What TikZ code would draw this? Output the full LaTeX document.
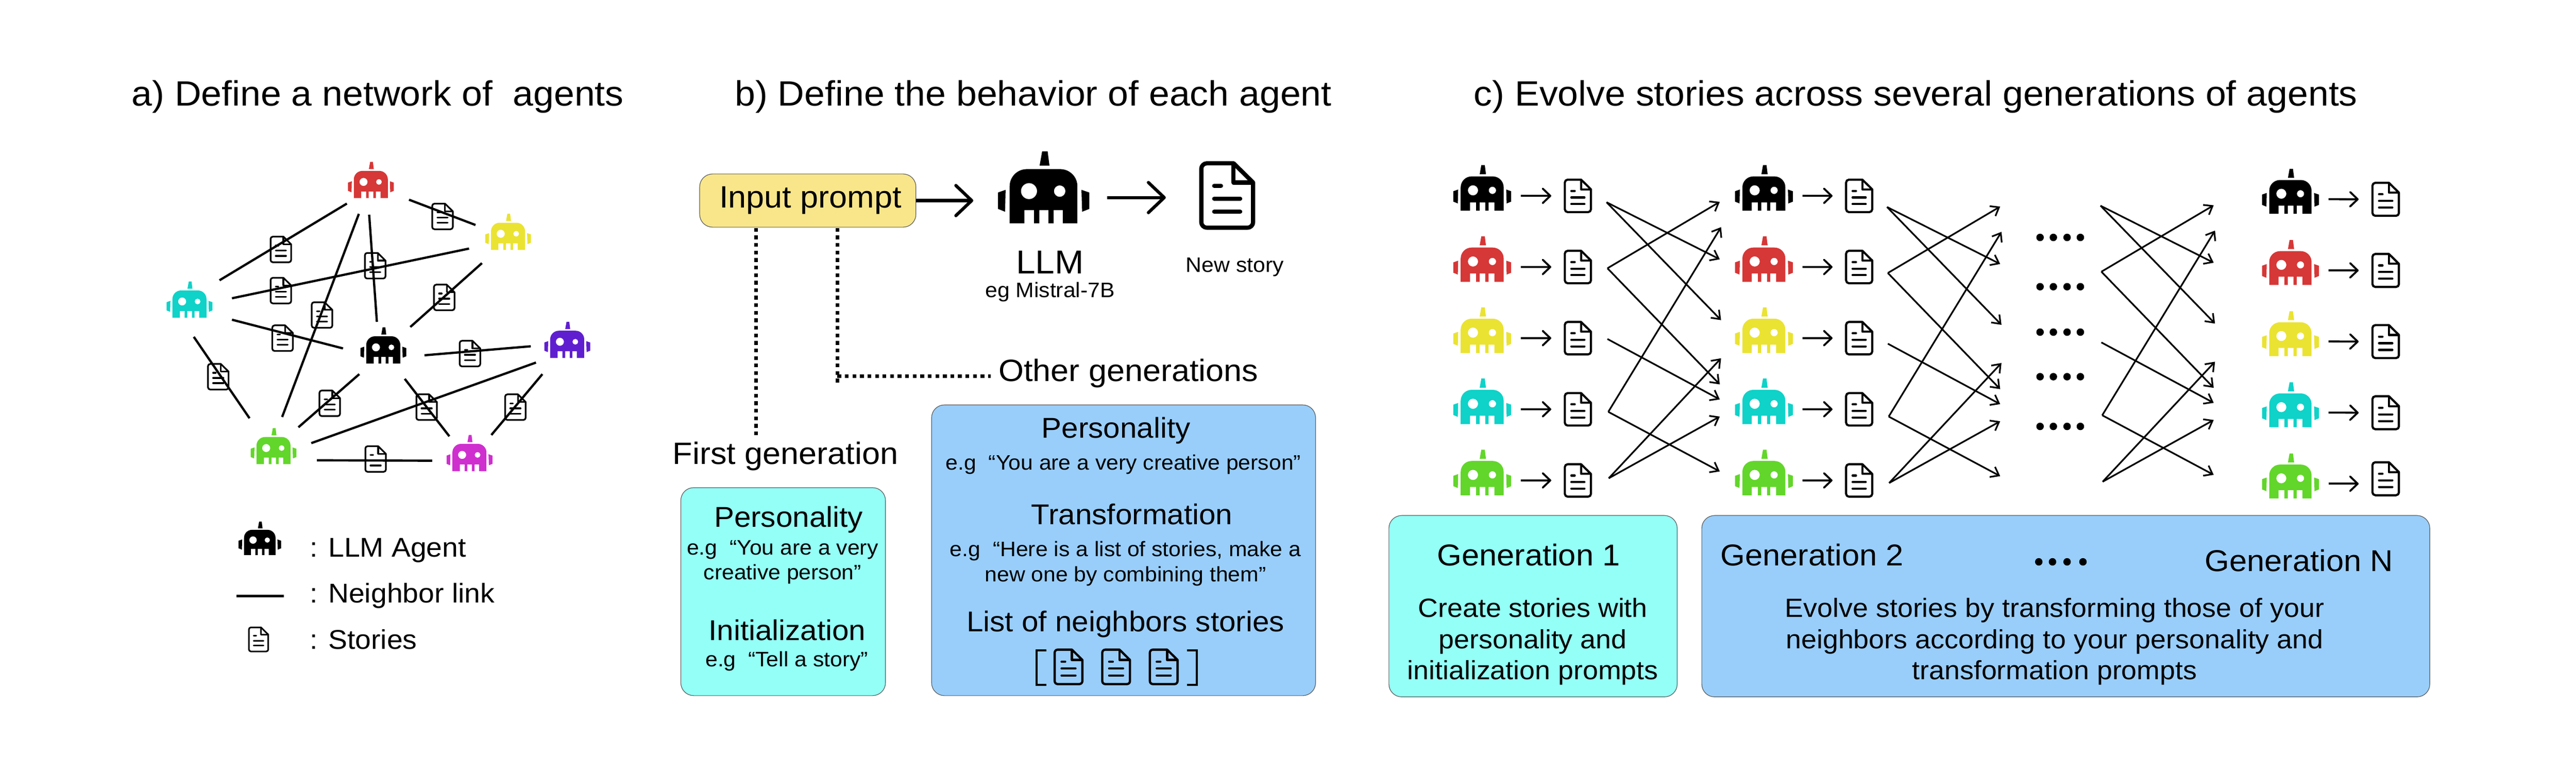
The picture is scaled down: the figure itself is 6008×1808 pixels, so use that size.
\documentclass[tikz,border=0pt]{standalone}
\usepackage{fontspec}
\setmainfont{Liberation Sans}[FakeStretch=1.05]
\usetikzlibrary{arrows.meta}
\definecolor{agentred}{HTML}{D63737}
\definecolor{agentyellow}{HTML}{EAE332}
\definecolor{agentcyan}{HTML}{0FD2C8}
\definecolor{agentpurple}{HTML}{5F1FD0}
\definecolor{agentgreen}{HTML}{62D62A}
\definecolor{agentpink}{HTML}{CF2FCF}
\definecolor{promptfill}{HTML}{F9E68B}
\definecolor{firstfill}{HTML}{94FFF6}
\definecolor{otherfill}{HTML}{99CEFB}
\tikzset{
    titletext/.style = {font=\fontsize{23.3}{27}\selectfont, inner sep=0},
    headtext/.style = {font=\fontsize{20.5}{24}\selectfont, inner sep=0},
    parttext/.style = {font=\fontsize{19}{22}\selectfont, inner sep=0},
    smalltext/.style = {font=\fontsize{13.9}{16.5}\selectfont, inner sep=0, align=center},
    keytext/.style = {font=\fontsize{18}{20}\selectfont, inner sep=0, anchor=base west},
    gentext/.style = {font=\fontsize{20}{24}\selectfont, inner sep=0},
    plantext/.style = {font=\fontsize{17.5}{20.8}\selectfont, inner sep=0, align=center},
    card/.style = {draw=black!65, line width=0.4pt, rounded corners=8.5pt, inner sep=0},
    link/.style = {line width=1.5pt},
    flow/.style = {line width=1.3pt, -{Straight Barb[round,length=5pt,width=9.6pt]}},
    bigflow/.style = {line width=2.1pt, -{Straight Barb[round,length=10.5pt,width=20pt]}},
    fanflow/.style = {line width=1.1pt, -{Straight Barb[length=5pt,width=7.6pt]}},
    dotline/.style = {line width=2.5pt, dash pattern=on 2.5pt off 2.5pt},
    pics/agent/.style 2 args = {code = {
        \begin{scope}[scale=#2]
            \fill [#1] (-1.6,-39.4) -- (4.4,-39.4) -- (6.4,-23.7) -- (-4.4,-23.7) -- cycle;
            \fill [#1] (-49.9,5.7) -- (-41.6,2.8) -- (-42.2,26.8) -- (-49.9,23.7) -- cycle;
            \fill [#1] (41.4,2.8) -- (50,5.7) -- (50,23.7) -- (42.2,26.8) -- cycle;
            \fill [#1, even odd rule] (-37.2,39.4) -- (-37.2,-1.1) arc [start angle=180, end angle=270, radius=18.8]
                -- (18.2,-19.9) arc [start angle=270, end angle=360, radius=18.8]
                -- (37,39.4) -- (21,39.4) -- (21,25) -- (11,25) -- (11,39.4) -- (5.3,39.4) -- (5.3,25) -- (-4.7,25)
                -- (-4.7,39.4) -- (-10.5,39.4) -- (-10.5,25) -- (-21,25) -- (-21,39.4) -- cycle
                (-16,4.2) circle [radius=8.8]
                (17.6,4.2) circle [radius=6.3];
        \end{scope}
        \coordinate (-out) at (#2*66.7,#2*13.7);
    }},
    pics/story/.style = {code = {
        \begin{scope}[scale=#1]
            \draw [line width={2.13pt*#1}, line join=round] (11.5,-57.25) -- (-36,-57.25) arc [start angle=270, end angle=180, radius=10]
                -- (-46,47.5) arc [start angle=180, end angle=90, radius=10] -- (36.25,57.5) arc [start angle=90, end angle=0, radius=10]
                -- (46.25,-23) -- cycle;
            \draw [line width={2.13pt*#1}, line join=round] (11.5,-57.25) -- (11.5,-23) -- (46.25,-23);
            \draw [line width={2.13pt*#1}, line cap=round] (-23,-17.25) -- (-11,-17.25);
            \draw [line width={2.13pt*#1}, line cap=round] (-23,5.75) -- (23.25,5.75);
            \draw [line width={2.13pt*#1}, line cap=round] (-23,29) -- (23.25,29);
        \end{scope}
        \coordinate (-in) at (#1*-94,0);
    }},
    pics/fan/.style = {code = {
        \coordinate (f1) at (3747,472);
        \coordinate (f2) at (3749,626);
        \coordinate (f3) at (3749,791);
        \coordinate (f4) at (3751,961);
        \coordinate (f5) at (3752,1116);
        \coordinate (t1) at (4011,605);
        \coordinate (t2) at (4014,747);
        \coordinate (t3) at (4011,471);
        \coordinate (t4) at (4011,897);
        \coordinate (t5) at (4011,932);
        \coordinate (t6) at (4014,530);
        \coordinate (t7) at (4011,1100);
        \coordinate (t8) at (4014,836);
        \coordinate (t9) at (4011,972);
        \draw [fanflow] (f1) -- (t1);
        \draw [fanflow] (f1) -- (t2);
        \draw [fanflow] (f2) -- (t3);
        \draw [fanflow] (f2) -- (t4);
        \draw [fanflow] (f3) -- (t5);
        \draw [fanflow] (f4) -- (t6);
        \draw [fanflow] (f4) -- (t7);
        \draw [fanflow] (f5) -- (t8);
        \draw [fanflow] (f5) -- (t9);
    }},
}
\begin{document}
\begin{tikzpicture}[x=0.01cm, y=-0.01cm]
    \useasboundingbox (0,0) rectangle (6008,1808);

    % a) network
    \node [titletext] (titlea) at (881,226) {a) Define a network of\ \ agents};
    \pic at (865,420) {agent={agentred}{1.07}};
    \pic at (1185,541) {agent={agentyellow}{1.07}};
    \pic at (442,699) {agent={agentcyan}{1.07}};
    \pic at (894,806) {agent={black}{1.07}};
    \pic at (1323,793) {agent={agentpurple}{1.07}};
    \pic at (638,1041) {agent={agentgreen}{1.07}};
    \pic at (1095,1057) {agent={agentpink}{1.07}};
    \pic at (1032,505) {story=0.52};
    \pic at (655,582) {story=0.52};
    \pic at (655,678) {story=0.52};
    \pic at (875,620) {story=0.52};
    \pic at (751,735) {story=0.52};
    \pic at (1036,694) {story=0.52};
    \pic at (659,789) {story=0.52};
    \pic at (509,879) {story=0.52};
    \pic at (1096,825) {story=0.52};
    \pic at (769,941) {story=0.52};
    \pic at (995,950) {story=0.52};
    \pic at (1202,950) {story=0.52};
    \pic at (876,1071) {story=0.52};
    \coordinate (la1) at (809,475);
    \coordinate (lb1) at (512,654);
    \coordinate (la2) at (837,499);
    \coordinate (lb2) at (658,973);
    \coordinate (la3) at (861,501);
    \coordinate (lb3) at (879,751);
    \coordinate (la4) at (954,466);
    \coordinate (lb4) at (1109,525);
    \coordinate (la5) at (541,696);
    \coordinate (lb5) at (1094,580);
    \coordinate (la6) at (1124,614);
    \coordinate (lb6) at (957,763);
    \coordinate (la7) at (541,746);
    \coordinate (lb7) at (800,813);
    \coordinate (la8) at (452,786);
    \coordinate (lb8) at (582,976);
    \coordinate (la9) at (990,829);
    \coordinate (lb9) at (1238,808);
    \coordinate (la10) at (838,873);
    \coordinate (lb10) at (696,997);
    \coordinate (la11) at (944,884);
    \coordinate (lb11) at (1048,1018);
    \coordinate (la12) at (1250,846);
    \coordinate (lb12) at (726,1034);
    \coordinate (la13) at (1265,873);
    \coordinate (lb13) at (1146,1015);
    \coordinate (la14) at (739,1074);
    \coordinate (lb14) at (1008,1075);
    \draw [link] (la1) -- (lb1);
    \draw [link] (la2) -- (lb2);
    \draw [link] (la3) -- (lb3);
    \draw [link] (la4) -- (lb4);
    \draw [link] (la5) -- (lb5);
    \draw [link] (la6) -- (lb6);
    \draw [link] (la7) -- (lb7);
    \draw [link] (la8) -- (lb8);
    \draw [link] (la9) -- (lb9);
    \draw [link] (la10) -- (lb10);
    \draw [link] (la11) -- (lb11);
    \draw [link] (la12) -- (lb12);
    \draw [link] (la13) -- (lb13);
    \draw [link] (la14) -- (lb14);

    % legend
    \pic at (606,1256) {agent={black}{0.99}};
    \coordinate (keya) at (552,1391);
    \coordinate (keyb) at (662,1391);
    \draw [link, line width=1.6pt] (keya) -- (keyb);
    \pic at (603,1492) {story=0.49};
    \node [keytext] (keyagent) at (722,1299) {: LLM Agent};
    \node [keytext] (keylink) at (722,1407) {: Neighbor link};
    \node [keytext] (keystory) at (722,1515) {: Stories};

    % b) behavior
    \node [titletext] (titleb) at (2410,226) {b) Define the behavior of each agent};
    \node [card, fill=promptfill, minimum width=5.04cm, minimum height=1.24cm] (prompt) at (1884,468) {};
    \node [headtext] (prompttext) at (1890,467) {Input prompt};
    \pic at (2434,437) {agent={black}{2.13}};
    \pic at (2862,456) {story=1.31};
    \coordinate (llmtip) at (2270,468);
    \coordinate (llmout) at (2582,461);
    \coordinate (storytip) at (2719,461);
    \draw [bigflow] (prompt.east) -- (llmtip);
    \draw [bigflow] (llmout) -- (storytip);
    \node [font=\fontsize{22}{26}\selectfont, inner sep=0] (llmtext) at (2449,612) {LLM};
    \node [smalltext] (modeltext) at (2449,681) {eg Mistral-7B};
    \node [smalltext] (newtext) at (2880,623) {New story};
    \node [headtext] (othertext) at (2632,871) {Other generations};
    \node [headtext] (firsttext) at (1832,1065) {First generation};
    \coordinate (firsta) at (1763,532);
    \coordinate (firstb) at (1763,1021);
    \coordinate (othera) at (1953,532);
    \coordinate (otherb) at (1953,896);
    \coordinate (otherc) at (1953,878);
    \coordinate (otherd) at (2311,878);
    \draw [dotline] (firsta) -- (firstb);
    \draw [dotline] (othera) -- (otherb);
    \draw [dotline] (otherc) -- (otherd);
    \node [card, fill=firstfill, minimum width=4.77cm, minimum height=4.85cm] (firstcard) at (1826.5,1380.5) {};
    \node [card, fill=otherfill, minimum width=8.95cm, minimum height=6.78cm] (othercard) at (2620.5,1284) {};
    \node [parttext] (firstpers) at (1839,1212) {Personality};
    \node [smalltext] (firstyou) at (1825,1312) {e.g\ \ “You are a very\\creative person”};
    \node [parttext] (firstinit) at (1836,1470) {Initialization};
    \node [smalltext] (firsttell) at (1835,1543) {e.g\ \ “Tell a story”};
    \node [parttext] (otherpers) at (2603,1005) {Personality};
    \node [smalltext] (otheryou) at (2620,1084) {e.g\ \ “You are a very creative person”};
    \node [parttext] (othertrans) at (2640,1200) {Transformation};
    \node [smalltext] (otherhere) at (2625,1315) {e.g\ \ “Here is a list of stories, make a\\new one by combining them”};
    \node [parttext] (otherlist) at (2625,1456) {List of neighbors stories};
    \draw [line width=1.3pt] (2441,1518) -- (2418,1518) -- (2418,1598) -- (2441,1598);
    \draw [line width=1.3pt] (2768,1518) -- (2791,1518) -- (2791,1598) -- (2768,1598);
    \pic at (2492,1556) {story=0.70};
    \pic at (2603,1556) {story=0.70};
    \pic at (2714,1556) {story=0.70};

    % c) generations
    \node [titletext] (titlec) at (4468,226) {c) Evolve stories across several generations of agents};
    \pic (ka1) at (3457,438.5) {agent={black}{1.35}};
    \pic (ka2) at (3457,604.5) {agent={agentred}{1.35}};
    \pic (ka3) at (3457,770.5) {agent={agentyellow}{1.35}};
    \pic (ka4) at (3457,936.5) {agent={agentcyan}{1.35}};
    \pic (ka5) at (3457,1102.5) {agent={agentgreen}{1.35}};
    \pic (sa1) at (3680,457) {story=0.66};
    \pic (sa2) at (3680,623) {story=0.66};
    \pic (sa3) at (3680,789) {story=0.66};
    \pic (sa4) at (3680,955) {story=0.66};
    \pic (sa5) at (3680,1121) {story=0.66};
    \draw [flow] (ka1-out) -- (sa1-in);
    \draw [flow] (ka2-out) -- (sa2-in);
    \draw [flow] (ka3-out) -- (sa3-in);
    \draw [flow] (ka4-out) -- (sa4-in);
    \draw [flow] (ka5-out) -- (sa5-in);
    \pic (kb1) at (4114,438.5) {agent={black}{1.35}};
    \pic (kb2) at (4114,604.5) {agent={agentred}{1.35}};
    \pic (kb3) at (4114,770.5) {agent={agentyellow}{1.35}};
    \pic (kb4) at (4114,936.5) {agent={agentcyan}{1.35}};
    \pic (kb5) at (4114,1102.5) {agent={agentgreen}{1.35}};
    \pic (sb1) at (4336,457) {story=0.66};
    \pic (sb2) at (4336,623) {story=0.66};
    \pic (sb3) at (4336,789) {story=0.66};
    \pic (sb4) at (4336,955) {story=0.66};
    \pic (sb5) at (4336,1121) {story=0.66};
    \draw [flow] (kb1-out) -- (sb1-in);
    \draw [flow] (kb2-out) -- (sb2-in);
    \draw [flow] (kb3-out) -- (sb3-in);
    \draw [flow] (kb4-out) -- (sb4-in);
    \draw [flow] (kb5-out) -- (sb5-in);
    \pic (kc1) at (5342,446.5) {agent={black}{1.33}};
    \pic (kc2) at (5342,612.5) {agent={agentred}{1.33}};
    \pic (kc3) at (5342,778.5) {agent={agentyellow}{1.33}};
    \pic (kc4) at (5342,944.5) {agent={agentcyan}{1.33}};
    \pic (kc5) at (5342,1110.5) {agent={agentgreen}{1.33}};
    \pic (sc1) at (5564,465) {story=0.67};
    \pic (sc2) at (5564,631) {story=0.67};
    \pic (sc3) at (5564,797) {story=0.67};
    \pic (sc4) at (5564,963) {story=0.67};
    \pic (sc5) at (5564,1117) {story=0.67};
    \draw [flow] (kc1-out) -- (sc1-in);
    \draw [flow] (kc2-out) -- (sc2-in);
    \draw [flow] (kc3-out) -- (sc3-in);
    \draw [flow] (kc4-out) -- (sc4-in);
    \draw [flow] (kc5-out) -- (kc5-out -| sc5-in);
    \pic at (0,0) {fan};
    \pic at (654,11) {fan};
    \pic at (1152,8) {fan};
    \draw [fill] (4758,554) circle [radius = 8];
    \draw [fill] (4789,554) circle [radius = 8];
    \draw [fill] (4821,554) circle [radius = 8];
    \draw [fill] (4852,554) circle [radius = 8];
    \draw [fill] (4758,669) circle [radius = 8];
    \draw [fill] (4789,669) circle [radius = 8];
    \draw [fill] (4821,669) circle [radius = 8];
    \draw [fill] (4852,669) circle [radius = 8];
    \draw [fill] (4758,775) circle [radius = 8];
    \draw [fill] (4789,775) circle [radius = 8];
    \draw [fill] (4821,775) circle [radius = 8];
    \draw [fill] (4852,775) circle [radius = 8];
    \draw [fill] (4758,879) circle [radius = 8];
    \draw [fill] (4789,879) circle [radius = 8];
    \draw [fill] (4821,879) circle [radius = 8];
    \draw [fill] (4852,879) circle [radius = 8];
    \draw [fill] (4758,995) circle [radius = 8];
    \draw [fill] (4789,995) circle [radius = 8];
    \draw [fill] (4821,995) circle [radius = 8];
    \draw [fill] (4852,995) circle [radius = 8];
    \node [card, fill=firstfill, minimum width=6.72cm, minimum height=4.23cm] (genone) at (3575.5,1414.5) {};
    \node [card, fill=otherfill, minimum width=16.97cm, minimum height=4.23cm] (genrest) at (4818,1414.5) {};
    \node [gentext] (genonetext) at (3565,1295) {Generation 1};
    \node [gentext] (gentwotext) at (4226,1295) {Generation 2};
    \node [gentext] (genntext) at (5362,1308) {Generation N};
    \draw [fill] (4755,1311) circle [radius = 8];
    \draw [fill] (4787,1311) circle [radius = 8];
    \draw [fill] (4821,1311) circle [radius = 8];
    \draw [fill] (4858,1311) circle [radius = 8];
    \node [plantext] (genoneplan) at (3575,1497) {Create stories with\\personality and\\initialization prompts};
    \node [plantext] (genrestplan) at (4792,1497) {Evolve stories by transforming those of your\\neighbors according to your personality and\\transformation prompts};
\end{tikzpicture}
\end{document}
